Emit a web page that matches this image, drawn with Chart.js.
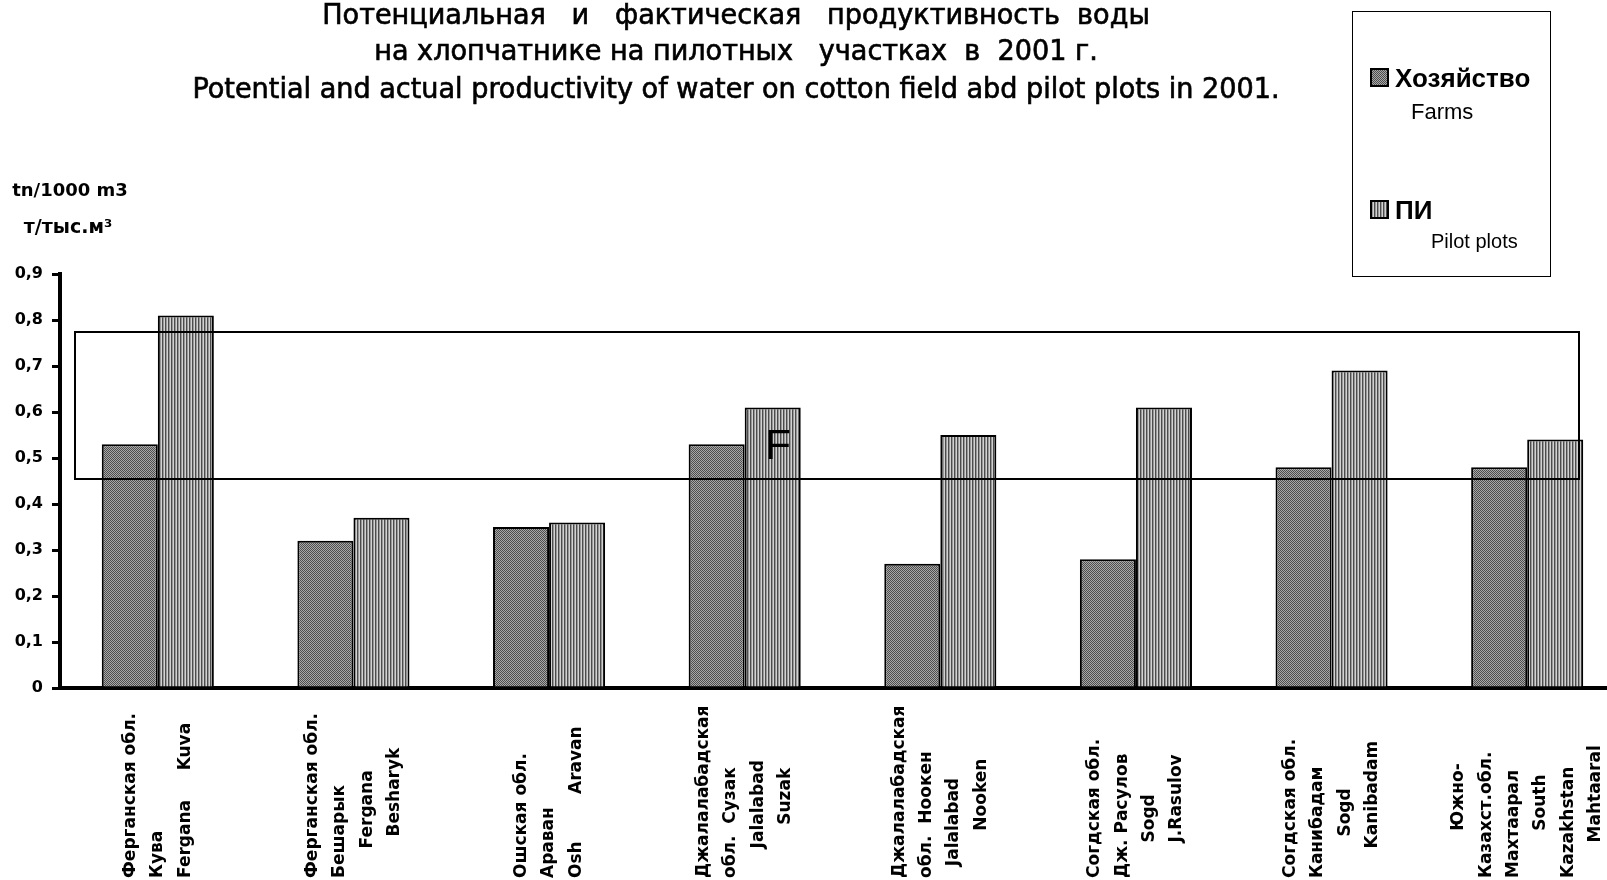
<!DOCTYPE html>
<html><head><meta charset="utf-8">
<script src="https://cdn.jsdelivr.net/npm/chart.js@4"></script>
<style>
html,body{margin:0;padding:0;overflow:hidden;background:#fff;}
#wrap{width:1640px;height:880px;}
</style></head><body>
<div id="wrap"><canvas id="c" width="1640" height="880"></canvas></div>
<script>
// ---- data ----
const titleLines = [
  "Потенциальная   и   фактическая   продуктивность  воды",
  "на хлопчатнике на пилотных   участках  в  2001 г.",
  "Potential and actual productivity of water on cotton field abd pilot plots in 2001."
];
const unitLines = ["tn/1000 m3", "т/тыс.м³"];
const categories = [
  ["Ферганская обл.", "Кува", "Fergana     Kuva"],
  ["Ферганская обл.", "Бешарык", "     Fergana", "       Besharyk"],
  ["Ошская обл.", "Араван", "Osh        Aravan"],
  ["Джалалабадская", "обл.  Сузак", "     Jalalabad", "         Suzak"],
  ["Джалалабадская", "обл.  Ноокен", "  Jalalabad", "        Nooken"],
  ["Согдская обл.", "Дж. Расулов", "      Sogd", "      J.Rasulov"],
  ["Согдская обл.", "Канибадам", "       Sogd", "     Kanibadam"],
  ["        Южно-", "Казахст.обл.", "Махтаарал", "        South", "Kazakhstan", "      Mahtaaral"]
];
const farmsValues = [0.53, 0.32, 0.35, 0.53, 0.27, 0.28, 0.48, 0.48];
const pilotValues = [0.81, 0.37, 0.36, 0.61, 0.55, 0.61, 0.69, 0.54];
const seriesNames = [["Хозяйство", "Farms"], ["ПИ", "Pilot plots"]];
const yMin = 0, yMax = 0.9, yStep = 0.1;
// annotation frame in data units (category index, value)
const frameBox = {x0: -0.424, x1: 7.266, y0: 0.454, y1: 0.774};
const frameLetter = {text: "F", x: 3.171, y: 0.524};

// ---- patterns ----
const canvas = document.getElementById('c');
const ctx0 = canvas.getContext('2d');
function makePattern(kind) {
  const c = document.createElement('canvas');
  const g = c.getContext('2d');
  if (kind === 'hatch') {
    c.width = 4; c.height = 4;
    g.fillStyle = '#a8a8a8'; g.fillRect(0, 0, 4, 4);
    g.fillStyle = '#4e4e4e';
    for (let i = 0; i < 4; i++) { g.fillRect(i, i, 1, 1); g.fillRect((i + 2) % 4, i, 1, 1); }
  } else {
    c.width = 3; c.height = 1;
    const cols = ['#4c4c4c', '#989898', '#d2d2d2'];
    cols.forEach((col, i) => { g.fillStyle = col; g.fillRect(i, 0, 1, 1); });
  }
  return ctx0.createPattern(c, 'repeat');
}
const farmsPattern = makePattern('hatch');
const pilotPattern = makePattern('stripes');

const decorPlugin = {
  id: 'decor',
  afterDatasetsDraw(chart) {
    const {ctx, scales: {x, y}} = chart;
    ctx.save();
    // frame
    const l = x.getPixelForValue(frameBox.x0), r = x.getPixelForValue(frameBox.x1);
    const t = y.getPixelForValue(frameBox.y1), b = y.getPixelForValue(frameBox.y0);
    ctx.strokeStyle = '#000'; ctx.lineWidth = 2;
    ctx.strokeRect(Math.round(l), Math.round(t), Math.round(r - l), Math.round(b - t));
    // letter
    ctx.fillStyle = '#000';
    ctx.font = '42px "Liberation Sans", Arial, sans-serif';
    ctx.textAlign = 'center'; ctx.textBaseline = 'middle';
    ctx.fillText(frameLetter.text, x.getPixelForValue(frameLetter.x), y.getPixelForValue(frameLetter.y));
    ctx.restore();
  },
  afterDraw(chart) {
    const {ctx, scales: {x}} = chart;
    ctx.save();
    ctx.fillStyle = '#000';
    // title
    ctx.font = '28px "DejaVu Sans Condensed", "DejaVu Sans", sans-serif';
    const w3 = ctx.measureText(titleLines[2]).width;
    const sx = 1087 / w3;
    ctx.textAlign = 'center'; ctx.textBaseline = 'alphabetic';
    ctx.strokeStyle = '#000'; ctx.lineWidth = 0.6;
    const baselines = [24, 60, 98];
    titleLines.forEach((line, i) => {
      ctx.save();
      ctx.translate(736, baselines[i]);
      ctx.scale(sx, 1);
      ctx.fillText(line, 0, 0);
      ctx.strokeText(line, 0, 0);
      ctx.restore();
    });
    // unit text
    ctx.textAlign = 'center';
    ctx.font = 'bold 18px "DejaVu Sans", sans-serif';
    ctx.fillText(unitLines[0], 70, 196);
    ctx.font = 'bold 19px "DejaVu Sans", sans-serif';
    ctx.fillText(unitLines[1], 68, 233);
    // x labels
    ctx.font = 'bold 17px "DejaVu Sans", sans-serif';
    ctx.textAlign = 'left'; ctx.textBaseline = 'middle';
    const lh = 27.4;
    categories.forEach((lines, i) => {
      const c = x.getPixelForValue(i);
      const n = lines.length;
      lines.forEach((line, j) => {
        const px = c + (j - (n - 1) / 2) * lh;
        ctx.save();
        ctx.translate(px, 878);
        ctx.rotate(-Math.PI / 2);
        ctx.fillText(line, 0, 0);
        ctx.restore();
      });
    });
    // legend
    ctx.strokeStyle = '#000'; ctx.lineWidth = 1;
    ctx.strokeRect(1352.5, 11.5, 198, 265);
    const pats = [farmsPattern, pilotPattern];
    const mk = [69, 201];
    const nameBase = [87, 219];
    const subX = [1411, 1431];
    const subBase = [119, 248];
    const subFont = [22, 20];
    for (let k = 0; k < 2; k++) {
      ctx.fillStyle = pats[k];
      ctx.fillRect(1371, mk[k], 17, 17);
      ctx.lineWidth = 2; ctx.strokeStyle = '#000';
      ctx.strokeRect(1371, mk[k], 17, 17);
      ctx.fillStyle = '#000';
      ctx.textAlign = 'left'; ctx.textBaseline = 'alphabetic';
      ctx.font = 'bold 26px "Liberation Sans", Arial, sans-serif';
      ctx.fillText(seriesNames[k][0], 1395, nameBase[k]);
      ctx.font = subFont[k] + 'px "Liberation Sans", Arial, sans-serif';
      ctx.fillText(seriesNames[k][1], subX[k], subBase[k]);
    }
    ctx.restore();
  }
};

new Chart(canvas, {
  type: 'bar',
  data: {
    labels: categories.map(l => l.join(' ')),
    datasets: [
      {label: seriesNames[0][0], data: farmsValues, backgroundColor: farmsPattern, borderColor: '#000', borderWidth: 2},
      {label: seriesNames[1][0], data: pilotValues, backgroundColor: pilotPattern, borderColor: '#000', borderWidth: 2}
    ]
  },
  options: {
    responsive: false,
    animation: false,
    devicePixelRatio: 1,
    categoryPercentage: 0.573,
    barPercentage: 1.0,
    layout: {padding: {top: 274, bottom: 192, left: 0, right: 15}},
    plugins: {legend: {display: false}, title: {display: false}, tooltip: {enabled: false}},
    scales: {
      x: {
        ticks: {display: false},
        grid: {display: true, drawOnChartArea: false, drawTicks: false},
        border: {display: true, color: '#000', width: 4},
        afterFit(s) { s.height = 0; }
      },
      y: {
        min: yMin, max: yMax,
        ticks: {
          stepSize: yStep, color: '#000', padding: 9,
          font: {family: '"DejaVu Sans", sans-serif', weight: 'bold', size: 16},
          callback: v => (Math.abs(v) < 1e-9 ? '0' : v.toFixed(1).replace('.', ','))
        },
        grid: {drawOnChartArea: false, drawTicks: true, tickLength: 8, color: '#000', lineWidth: 3},
        border: {display: true, color: '#000', width: 4},
        afterFit(s) { s.width = 60; }
      }
    }
  },
  plugins: [decorPlugin]
});
</script>
</body></html>
